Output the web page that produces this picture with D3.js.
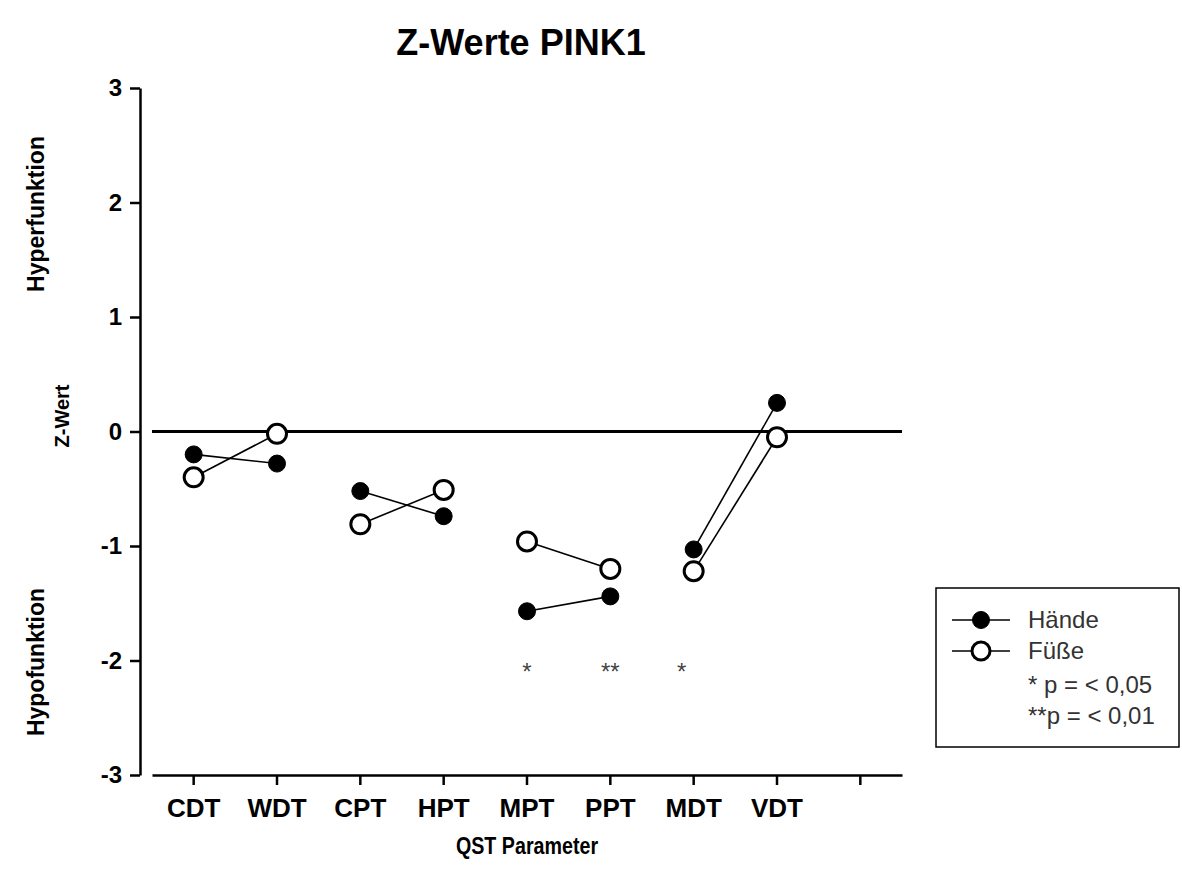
<!DOCTYPE html>
<html>
<head>
<meta charset="utf-8">
<script src="https://cdn.jsdelivr.net/npm/d3@7"></script>
<style>
  body { margin: 0; background: #fff; }
  text { font-family: "Liberation Sans", Arial, sans-serif; }
</style>
</head>
<body>
<div id="chart"></div>
<script>
// values
const categories = ['CDT', 'WDT', 'CPT', 'HPT', 'MPT', 'PPT', 'MDT', 'VDT'];
const tickSlots = [...categories, ' ']; // one empty tick at the right end
const haende = [-0.20, -0.28, -0.52, -0.74, -1.57, -1.44, -1.03, 0.25];
const fuesse = [-0.40, -0.02, -0.81, -0.51, -0.96, -1.20, -1.22, -0.05];
const pairs = [['CDT', 'WDT'], ['CPT', 'HPT'], ['MPT', 'PPT'], ['MDT', 'VDT']];
const sigCategories = ['MPT', 'PPT', 'MDT'];
const sigMarks = ['*', '**', '*'];
const yTicks = [-3, -2, -1, 0, 1, 2, 3];
const seriesNames = ['Hände', 'Füße'];
const legendNotes = ['* p = < 0,05', '**p = < 0,01'];

const width = 1182;
const height = 882;

const svg = d3.select('#chart').append('svg')
    .attr('width', width)
    .attr('height', height);

svg.append('rect')
    .attr('width', width)
    .attr('height', height)
    .attr('fill', '#fff');

const x = d3.scaleBand()
    .domain(tickSlots)
    .range([152, 902]);
const y = d3.scaleLinear()
    .domain([-3, 3])
    .range([775, 88]);
const cx = c => x(c) + x.bandwidth() / 2;

// title
svg.append('text')
    .attr('x', 521)
    .attr('y', 55)
    .attr('text-anchor', 'middle')
    .attr('font-size', 36)
    .attr('font-weight', 'bold')
    .text('Z-Werte PINK1');

// y axis
const yAxis = svg.append('g')
    .attr('transform', 'translate(140,0)')
    .call(d3.axisLeft(y).tickValues(yTicks).tickSize(10).tickSizeOuter(0)
        .tickPadding(8).tickFormat(d => String(d)));
yAxis.select('.domain').attr('stroke-width', 2.5);
yAxis.selectAll('.tick line').attr('stroke-width', 2.5);
yAxis.selectAll('.tick text')
    .style('font-size', '24px')
    .style('font-weight', 'bold')
    .style('font-family', '"Liberation Sans", Arial, sans-serif')
    .attr('fill', '#000');

// x axis
const xAxis = svg.append('g')
    .attr('transform', `translate(0,${y(-3)})`)
    .call(d3.axisBottom(x).tickSize(10).tickSizeOuter(0).tickPadding(14));
xAxis.select('.domain').attr('stroke-width', 2.5);
xAxis.selectAll('.tick line').attr('stroke-width', 2.5);
xAxis.selectAll('.tick text')
    .style('font-size', '26px')
    .style('font-weight', 'bold')
    .style('font-family', '"Liberation Sans", Arial, sans-serif')
    .attr('fill', '#000');

// axis titles
svg.append('text')
    .attr('transform', 'translate(527,854) scale(0.82,1)')
    .attr('text-anchor', 'middle')
    .attr('font-size', 24)
    .attr('font-weight', 'bold')
    .text('QST Parameter');

const sideLabels = [
    { text: 'Hyperfunktion', x: 44, y: 214, size: 23 },
    { text: 'Z-Wert', x: 69, y: 416, size: 20 },
    { text: 'Hypofunktion', x: 44, y: 662, size: 23 }
];
sideLabels.forEach((d) => {
    svg.append('text')
        .attr('transform', `translate(${d.x},${d.y}) rotate(-90)`)
        .attr('text-anchor', 'middle')
        .attr('font-size', d.size)
        .attr('font-weight', 'bold')
        .text(d.text);
});

// zero line
svg.append('line')
    .attr('x1', x.range()[0])
    .attr('x2', x.range()[1])
    .attr('y1', y(0))
    .attr('y2', y(0))
    .attr('stroke', '#000')
    .attr('stroke-width', 3);

const series = [
    { name: seriesNames[0], values: haende, fill: '#000' },
    { name: seriesNames[1], values: fuesse, fill: '#fff' }
];

const line = d3.line()
    .x(d => cx(d.cat))
    .y(d => y(d.value));

series.forEach((s) => {
    const byCat = new Map(categories.map((c, i) => [c, s.values[i]]));
    pairs.forEach((p) => {
        svg.append('path')
            .attr('d', line(p.map(c => ({ cat: c, value: byCat.get(c) }))))
            .attr('fill', 'none')
            .attr('stroke', '#000')
            .attr('stroke-width', 1.6);
    });
});

series.forEach((s) => {
    const filled = s.fill === '#000';
    svg.append('g').selectAll('circle')
        .data(categories.map((c, i) => ({ cat: c, value: s.values[i] })))
        .join('circle')
        .attr('cx', d => cx(d.cat))
        .attr('cy', d => y(d.value))
        .attr('r', filled ? 8.5 : 9.5)
        .attr('fill', s.fill)
        .attr('stroke', '#000')
        .attr('stroke-width', filled ? 1 : 3);
});

// significance marks
sigCategories.forEach((c, i) => {
    svg.append('text')
        .attr('x', cx(c) + (c === 'MDT' ? -12 : 0))
        .attr('y', y(-2) + 19)
        .attr('text-anchor', 'middle')
        .attr('font-size', 24)
        .attr('fill', '#444')
        .text(sigMarks[i]);
});

// legend
const legend = svg.append('g');
legend.append('rect')
    .attr('x', 936)
    .attr('y', 588)
    .attr('width', 243)
    .attr('height', 159)
    .attr('fill', '#fff')
    .attr('stroke', '#000')
    .attr('stroke-width', 1.5);

series.forEach((s, i) => {
    const ly = 620 + i * 31;
    const filled = s.fill === '#000';
    legend.append('line')
        .attr('x1', 952)
        .attr('x2', 1010)
        .attr('y1', ly)
        .attr('y2', ly)
        .attr('stroke', '#000')
        .attr('stroke-width', 1.6);
    legend.append('circle')
        .attr('cx', 981)
        .attr('cy', ly)
        .attr('r', filled ? 8.5 : 9)
        .attr('fill', s.fill)
        .attr('stroke', '#000')
        .attr('stroke-width', filled ? 1 : 3);
    legend.append('text')
        .attr('x', 1028)
        .attr('y', ly + 8)
        .attr('font-size', 24)
        .attr('fill', '#333')
        .text(s.name);
});

legendNotes.forEach((t, i) => {
    legend.append('text')
        .attr('x', 1028)
        .attr('y', 693 + i * 31)
        .attr('font-size', 24)
        .attr('fill', '#333')
        .text(t);
});
</script>
</body>
</html>
